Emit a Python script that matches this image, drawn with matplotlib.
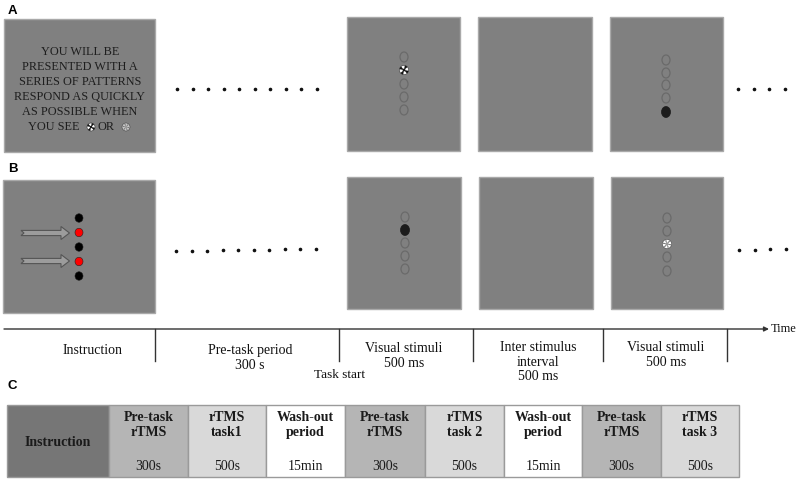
import matplotlib
matplotlib.use("Agg")
import matplotlib.pyplot as plt
from matplotlib.patches import Rectangle, Ellipse, Wedge, Circle, Polygon

# ---------------- data / labels ----------------
instruction_lines = ["YOU WILL BE", "PRESENTED WITH A", "SERIES OF PATTERNS",
                     "RESPOND AS QUICKLY", "AS POSSIBLE WHEN"]
last_line_parts = ["YOU SEE", "OR"]

timeline_labels = ["Instruction", "Pre-task period\n300 s", "Visual stimuli\n500 ms",
                   "Inter stimulus\ninterval\n500 ms", "Visual stimuli\n500 ms"]
timeline_label_x = [93, 250, 404, 538, 666]
timeline_label_y = [350, 358, 356, 362, 355]
timeline_ticks = [155, 339, 473, 603, 727]
task_start_label = "Task start"

table_head = ["Instruction", "Pre-task\nrTMS", "rTMS\ntask1", "Wash-out\nperiod",
              "Pre-task\nrTMS", "rTMS\ntask 2", "Wash-out\nperiod",
              "Pre-task\nrTMS", "rTMS\ntask 3"]
table_dur = ["", "300s", "500s", "15min", "300s", "500s", "15min", "300s", "500s"]
table_colors = ["#767676", "#b5b5b5", "#d9d9d9", "#ffffff", "#b5b5b5",
                "#d9d9d9", "#ffffff", "#b5b5b5", "#d9d9d9"]
table_edges = [7, 109, 188, 266, 345, 425, 504, 582, 661, 739]

# stimulus states for each visual box (index of special circle, kind)
panelA_states = [(1, "pinwheel"), None, (4, "black")]
panelB_states = [(1, "black"), None, (2, "speckle")]
instr_B_colors = ["black", "red", "black", "red", "black"]

SERIF = ["Liberation Serif", "DejaVu Serif"]
SANS = ["Liberation Sans", "DejaVu Sans"]

fig = plt.figure(figsize=(8.01, 4.8), dpi=100)
ax = fig.add_axes([0, 0, 1, 1])
ax.set_xlim(0, 801)
ax.set_ylim(480, 0)
ax.axis("off")

BOX_FC = "#808080"
BOX_EC = "#a9a9a9"


def box(x0, y0, x1, y1):
    ax.add_patch(Rectangle((x0, y0), x1 - x0, y1 - y0, fc=BOX_FC, ec=BOX_EC, lw=1.0))


def pinwheel(cx, cy, r=4.6):
    ax.add_patch(Circle((cx, cy), r, fc="white", ec="#333333", lw=0.4, zorder=5))
    for a in range(0, 360, 90):
        ax.add_patch(Wedge((cx, cy), r, a + 10, a + 50, fc="#111111", ec="none", zorder=6))
    ax.add_patch(Circle((cx, cy), r * 0.3, fc="#111111", ec="none", zorder=7))


def speckle(cx, cy, r=4.6, base="white"):
    ax.add_patch(Circle((cx, cy), r, fc=base, ec="#444444", lw=0.4, zorder=5))
    for a in range(0, 360, 60):
        ax.add_patch(Wedge((cx, cy), r * 0.85, a, a + 22, fc="#777777", ec="none", zorder=6))
    ax.add_patch(Circle((cx, cy), r * 0.35, fc="#999999", ec="none", zorder=7))


def column(cx, ys, state):
    for i, y in enumerate(ys):
        if state is not None and state[0] == i:
            kind = state[1]
            if kind == "black":
                ax.add_patch(Ellipse((cx, y), 9, 11, fc="#1c1c1c", ec="#1c1c1c", lw=0.5, zorder=5))
            elif kind == "pinwheel":
                pinwheel(cx, y)
            else:
                speckle(cx, y)
        else:
            ax.add_patch(Ellipse((cx, y), 8, 10, fc="none", ec="#6a6a6a", lw=0.9, zorder=5))


def dots(x0, x1, y0, y1, n):
    xs = [x0 + (x1 - x0) * i / (n - 1) for i in range(n)]
    ys = [y0 + (y1 - y0) * i / (n - 1) for i in range(n)]
    ax.plot(xs, ys, ls="none", marker="o", ms=1.6, color="#111111")


# ---------------- Panel A ----------------
ax.text(8, 11, "A", fontsize=9.5, fontweight="bold", family=SANS, va="center", ha="left")
box(4, 19, 155, 152)
for i, line in enumerate(instruction_lines):
    ax.text(80, 52 + 15 * i, line, fontsize=8.8, family=SERIF, color="#1e1e1e",
            ha="center", va="center")
ax.text(54, 127, last_line_parts[0], fontsize=8.8, family=SERIF, color="#1e1e1e",
        ha="center", va="center")
pinwheel(91, 127, 4)
ax.text(106.5, 127, last_line_parts[1], fontsize=8.8, family=SERIF, color="#1e1e1e",
        ha="center", va="center")
speckle(126, 127, 4, base="#c8c8c8")

dots(177, 317, 89, 89, 10)
boxesA = [(347, 460), (478, 592), (610, 723)]
colA_x = [404, None, 666]
colA_y = [[57, 70, 84, 97, 110], None, [60, 73, 85, 98, 112]]
for (x0, x1), cx, ys, st in zip(boxesA, colA_x, colA_y, panelA_states):
    box(x0, 17, x1, 151)
    if cx is not None:
        column(cx, ys, st)
dots(738, 785, 89, 89, 4)

# ---------------- Panel B ----------------
ax.text(8, 169, "B", fontsize=9.5, fontweight="bold", family=SANS, va="center", ha="left")
box(3, 180, 155, 313)
for i, c in enumerate(instr_B_colors):
    ax.add_patch(Ellipse((79, 218 + 14.5 * i), 8, 8.5,
                         fc=("#ff0000" if c == "red" else "black"),
                         ec="#222222", lw=0.4, zorder=5))
for yc in (233, 261):
    pts = [(21, yc - 2.6), (61, yc - 2.6), (61, yc - 6.5), (69.5, yc), (61, yc + 6.5),
           (61, yc + 2.6), (21, yc + 2.6), (24, yc)]
    ax.add_patch(Polygon(pts, closed=True, fc="#9c9c9c", ec="#555555", lw=0.8, zorder=4))

dots(176, 316, 251, 249, 10)
boxesB = [(347, 461), (479, 593), (611, 723)]
colB_x = [405, None, 667]
colB_y = [[217, 230, 243, 256, 269], None, [218, 231, 244, 257, 271]]
for (x0, x1), cx, ys, st in zip(boxesB, colB_x, colB_y, panelB_states):
    box(x0, 177, x1, 309)
    if cx is not None:
        column(cx, ys, st)
dots(739, 786, 250, 249, 4)

# ---------------- Timeline ----------------
ax.annotate("", xy=(769, 329), xytext=(4, 329),
            arrowprops=dict(arrowstyle="-|>", lw=1.0, color="#333333",
                            mutation_scale=7, shrinkA=0, shrinkB=0))
ax.text(771, 329.5, "Time", fontsize=9, family=SERIF, color="#111111",
        ha="left", va="center")
for x in timeline_ticks:
    ax.plot([x, x], [329, 361], color="#333333", lw=1.0)
for lbl, x, y in zip(timeline_labels, timeline_label_x, timeline_label_y):
    ax.text(x, y, lbl, fontsize=10, family=SERIF, color="#111111",
            ha="center", va="center", linespacing=1.15)
ax.text(339, 375, task_start_label, fontsize=9.5, family=SERIF, color="#111111",
        ha="center", va="center")

# ---------------- Panel C ----------------
ax.text(8, 386, "C", fontsize=9.5, fontweight="bold", family=SANS, va="center", ha="left")
top, bot = 405, 477
for i, (head, dur, col) in enumerate(zip(table_head, table_dur, table_colors)):
    x0, x1 = table_edges[i], table_edges[i + 1]
    ax.add_patch(Rectangle((x0, top), x1 - x0, bot - top, fc=col, ec="#9a9a9a", lw=1.0))
    cx = (x0 + x1) / 2
    if i == 0:
        ax.text(cx, 442, head, fontsize=10, fontweight="bold", family=SERIF,
                color="#1a1a1a", ha="center", va="center")
    else:
        ax.text(cx, 425, head, fontsize=10, fontweight="bold", family=SERIF,
                color="#1a1a1a", ha="center", va="center", linespacing=1.25)
        ax.text(cx, 467, dur, fontsize=10, family=SERIF, color="#1a1a1a",
                ha="center", va="center")

fig.savefig("out.png", dpi=100)
